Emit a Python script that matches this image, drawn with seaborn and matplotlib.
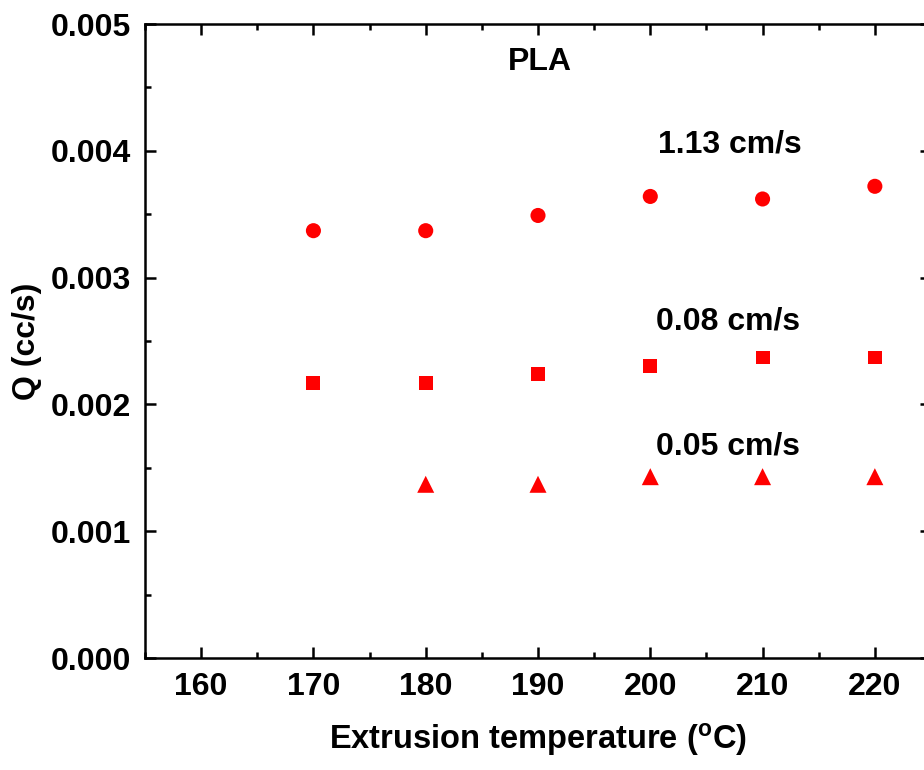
import matplotlib
matplotlib.use("Agg")
import matplotlib.pyplot as plt
import seaborn as sns
import pandas as pd
from matplotlib.ticker import MultipleLocator, FormatStrFormatter

# ---- data ----
temperature = [170, 180, 190, 200, 210, 220]
q_113 = [0.00337, 0.00337, 0.00349, 0.00364, 0.00362, 0.00372]
q_008 = [0.00217, 0.00217, 0.00224, 0.00230, 0.00237, 0.00237]
temp_005 = [180, 190, 200, 210, 220]
q_005 = [0.00137, 0.00137, 0.00143, 0.00143, 0.00143]
series_labels = ["1.13 cm/s", "0.08 cm/s", "0.05 cm/s"]

rows = []
for t, q in zip(temperature, q_113):
    rows.append((t, q, series_labels[0]))
for t, q in zip(temperature, q_008):
    rows.append((t, q, series_labels[1]))
for t, q in zip(temp_005, q_005):
    rows.append((t, q, series_labels[2]))
df = pd.DataFrame(rows, columns=["T", "Q", "speed"])

sns.set_style("ticks")
plt.rcParams['font.family'] = ['Liberation Sans', 'DejaVu Sans']
plt.rcParams['font.weight'] = 'bold'
plt.rcParams['mathtext.fontset'] = 'custom'
plt.rcParams['mathtext.rm'] = 'Liberation Sans:bold'
plt.rcParams['mathtext.it'] = 'Liberation Sans:bold'
plt.rcParams['mathtext.bf'] = 'Liberation Sans:bold'
for k in ['text.color', 'axes.labelcolor', 'xtick.color', 'ytick.color', 'axes.edgecolor']:
    plt.rcParams[k] = 'black'

fig = plt.figure(figsize=(9.24, 7.70), dpi=100)
ax = fig.add_axes([145/924, 112/770, (931-145)/924, (658-24)/770])

red = "#ff0000"
sns.scatterplot(data=df, x="T", y="Q", style="speed", size="speed",
                markers={series_labels[0]: "o", series_labels[1]: "s", series_labels[2]: "^"},
                sizes={series_labels[0]: 118, series_labels[1]: 100, series_labels[2]: 150},
                color=red, edgecolor=red, linewidth=0,
                legend=False, ax=ax)

ax.set_xlim(155, 225)
ax.set_ylim(0, 0.005)
ax.xaxis.set_major_locator(MultipleLocator(10))
ax.xaxis.set_minor_locator(MultipleLocator(5))
ax.yaxis.set_major_locator(MultipleLocator(0.001))
ax.yaxis.set_minor_locator(MultipleLocator(0.0005))
ax.yaxis.set_major_formatter(FormatStrFormatter('%.3f'))

for sp in ax.spines.values():
    sp.set_linewidth(1.8)
    sp.set_visible(True)
    sp.set_color('black')
ax.tick_params(which='both', direction='in', top=True, right=True, width=1.8,
               labelsize=23, pad=10, colors='black')
ax.tick_params(which='major', length=8)
ax.tick_params(which='minor', length=4)
for lab in ax.get_xticklabels() + ax.get_yticklabels():
    lab.set_fontweight('bold')

ax.set_xlabel(r"Extrusion temperature ($^{\mathrm{o}}$C)", fontsize=23.5,
              fontweight='bold', labelpad=14)
ax.set_ylabel("Q (cc/s)", fontsize=23, fontweight='bold', labelpad=6)

ax.text(190.2, 0.00470, "PLA", fontsize=23, fontweight='bold', ha='center', va='center')
ax.text(207.1, 0.00405, series_labels[0], fontsize=23, fontweight='bold', ha='center', va='center')
ax.text(206.9, 0.00265, series_labels[1], fontsize=23, fontweight='bold', ha='center', va='center')
ax.text(206.9, 0.00167, series_labels[2], fontsize=23, fontweight='bold', ha='center', va='center')

fig.savefig("out.png", dpi=100)
